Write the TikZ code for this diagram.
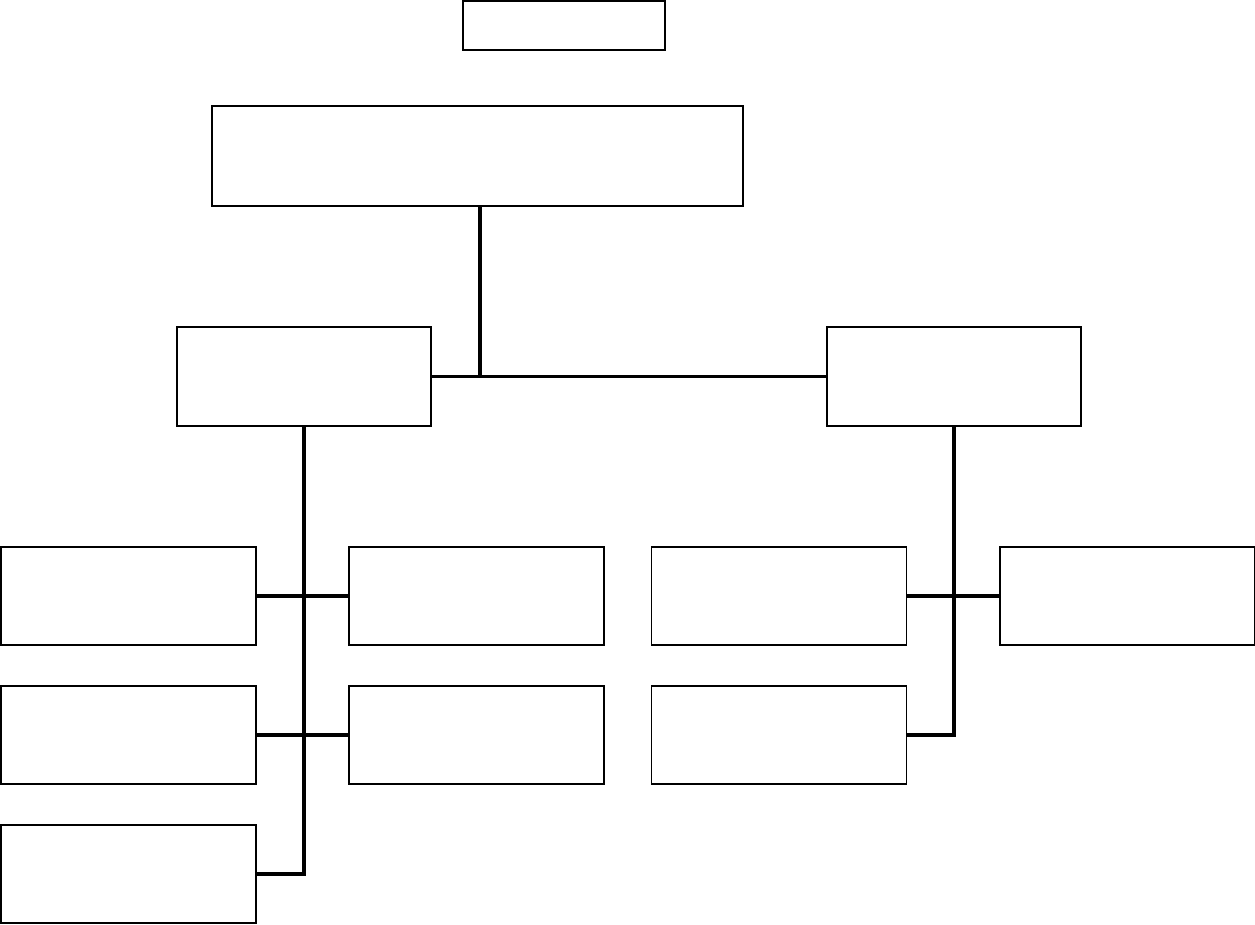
\documentclass[tikz,border=0pt]{standalone}
\usepackage{tikz}
\usetikzlibrary{positioning}

\tikzset{
  orgbox/.style={draw=black, line width=1.1pt, fill=white, inner sep=0pt,
                 minimum width=5.1cm, minimum height=1.96cm},
  orgline/.style={draw=black, line width=2.2pt}
}

\begin{document}
\begin{tikzpicture}[x=0.02cm, y=-0.02cm]
  \useasboundingbox (0,0) rectangle (1255,924);
  % top levels
  \node[orgbox, minimum width=4.04cm, minimum height=0.98cm] (title) at (564,25.5) {};
  \node[orgbox, minimum width=10.62cm, minimum height=2.0cm] (head) at (477.5,156) {};
  \node[orgbox, minimum width=5.08cm, minimum height=1.98cm] (left) at (304,376.5) {};
  \node[orgbox, minimum width=5.08cm, minimum height=1.98cm] (right) at (954,376.5) {};
  \coordinate (headfoot) at (480,206);
  % lower boxes
  \foreach \x/\y/\n in {128.5/596/la1, 476.5/596/lb1, 128.5/735/la2, 476.5/735/lb2,
                        128.5/874/la3, 779/596/ra1, 1127/596/rb1, 779/735/ra2}{
     \node[orgbox] (\n) at (\x,\y) {};
  }
  % connectors
  \draw[orgline] (headfoot) -- (headfoot |- left.east);
  \draw[orgline] (left.east) -- (right.west);
  \draw[orgline] (left.south) -- (left.south |- la3.east) -- (la3.east);
  \draw[orgline] (la1.east) -- (lb1.west);
  \draw[orgline] (la2.east) -- (lb2.west);
  \draw[orgline] (right.south) -- (right.south |- ra2.east) -- (ra2.east);
  \draw[orgline] (ra1.east) -- (rb1.west);
\end{tikzpicture}
\end{document}
